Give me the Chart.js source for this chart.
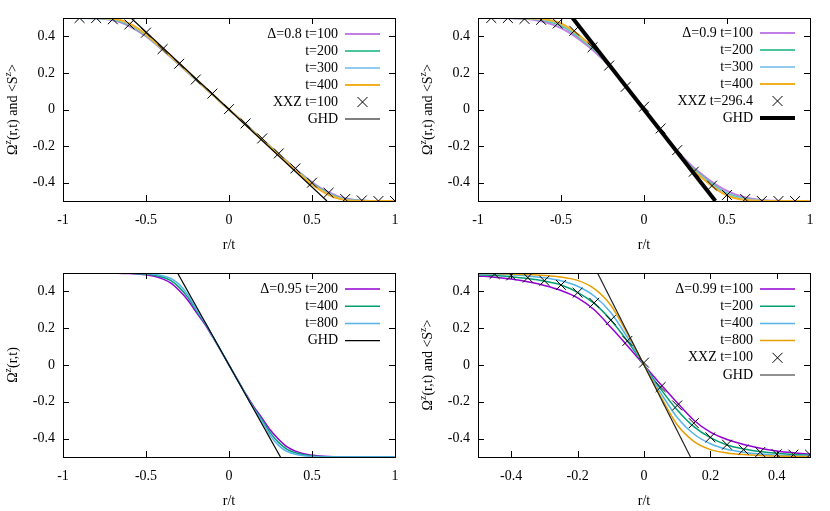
<!DOCTYPE html>
<html>
<head>
<meta charset="utf-8">
<script src="https://cdn.jsdelivr.net/npm/chart.js@4.4.0/dist/chart.umd.min.js"></script>
<style>
  body { margin: 0; background: #fff; width: 830px; height: 511px; position: relative; overflow: hidden; }
  canvas { position: absolute; }
  .probe { position: absolute; left: -999px; top: 0; font: 14px "Liberation Serif"; }
</style>
</head>
<body>
<span class="probe">Δ=0.8 t=100 Ω</span>
<canvas id="p1" width="415" height="250" style="left:0;top:0"></canvas>
<canvas id="p2" width="415" height="250" style="left:415px;top:0"></canvas>
<canvas id="p3" width="415" height="261" style="left:0;top:250px"></canvas>
<canvas id="p4" width="415" height="261" style="left:415px;top:250px"></canvas>
<script>
// ---- tick labels
const ticksX1 = [-1, -0.5, 0, 0.5, 1]
const ticksX4 = [-0.4, -0.2, 0, 0.2, 0.4]
const ticksY = [-0.4, -0.2, 0, 0.2, 0.4]

// ---- panel 1: Delta = 0.8
const x1 = [-1, -0.9, -0.8, -0.75, -0.7, -0.65, -0.6, -0.55, -0.5, -0.4, -0.3, -0.2, -0.1, 0, 0.1, 0.2, 0.3, 0.4, 0.5, 0.55, 0.6, 0.65, 0.7, 0.75, 0.8, 0.9, 1]
const p1t100 = [0.5, 0.5, 0.498, 0.495, 0.488, 0.475, 0.455, 0.43, 0.4, 0.325, 0.245, 0.163, 0.082, 0, -0.081, -0.163, -0.244, -0.324, -0.398, -0.428, -0.452, -0.472, -0.485, -0.493, -0.497, -0.5, -0.5]
const p1t200 = [0.5, 0.5, 0.499, 0.497, 0.492, 0.481, 0.462, 0.435, 0.405, 0.328, 0.247, 0.164, 0.082, 0, -0.082, -0.164, -0.246, -0.327, -0.403, -0.434, -0.459, -0.478, -0.49, -0.496, -0.499, -0.5, -0.5]
const p1t300 = [0.5, 0.5, 0.5, 0.498, 0.494, 0.485, 0.467, 0.44, 0.408, 0.33, 0.248, 0.165, 0.083, 0, -0.083, -0.165, -0.248, -0.33, -0.407, -0.438, -0.463, -0.482, -0.492, -0.498, -0.5, -0.5, -0.5]
const p1t400 = [0.5, 0.5, 0.5, 0.499, 0.496, 0.488, 0.47, 0.443, 0.41, 0.331, 0.249, 0.166, 0.083, 0, -0.083, -0.166, -0.249, -0.331, -0.41, -0.441, -0.466, -0.484, -0.494, -0.499, -0.5, -0.5, -0.5]
const p1xxzX = [-0.9, -0.8, -0.7, -0.6, -0.5, -0.4, -0.3, -0.2, -0.1, 0, 0.1, 0.2, 0.3, 0.4, 0.5, 0.6, 0.7, 0.8, 0.9, 1]
const p1xxzY = [0.5, 0.5, 0.493, 0.465, 0.42, 0.33, 0.25, 0.164, 0.087, 0.002, -0.076, -0.158, -0.24, -0.322, -0.4, -0.455, -0.489, -0.497, -0.5, -0.5]
const p1ghdX = [-0.59, 0.59]
const p1ghdY = [0.5, -0.5]

// ---- panel 2: Delta = 0.9
const x2 = [-1, -0.9, -0.8, -0.7, -0.65, -0.6, -0.55, -0.5, -0.45, -0.4, -0.35, -0.3, -0.2, -0.1, 0, 0.1, 0.2, 0.3, 0.35, 0.4, 0.45, 0.5, 0.55, 0.6, 0.65, 0.7, 0.8, 0.9, 1]
const p2t100 = [0.5, 0.5, 0.499, 0.494, 0.488, 0.478, 0.464, 0.445, 0.42, 0.39, 0.355, 0.318, 0.228, 0.115, 0, -0.115, -0.228, -0.318, -0.355, -0.39, -0.42, -0.445, -0.464, -0.478, -0.488, -0.494, -0.499, -0.5, -0.5]
const p2t200 = [0.5, 0.5, 0.5, 0.497, 0.493, 0.486, 0.475, 0.458, 0.433, 0.4, 0.365, 0.328, 0.23, 0.116, 0, -0.116, -0.23, -0.328, -0.365, -0.4, -0.433, -0.458, -0.475, -0.486, -0.493, -0.497, -0.5, -0.5, -0.5]
const p2t300 = [0.5, 0.5, 0.5, 0.498, 0.495, 0.49, 0.481, 0.465, 0.44, 0.407, 0.37, 0.333, 0.231, 0.116, 0, -0.116, -0.231, -0.333, -0.37, -0.407, -0.44, -0.465, -0.481, -0.49, -0.495, -0.498, -0.5, -0.5, -0.5]
const p2t400 = [0.5, 0.5, 0.5, 0.499, 0.497, 0.493, 0.485, 0.47, 0.445, 0.412, 0.374, 0.336, 0.232, 0.116, 0, -0.116, -0.232, -0.336, -0.374, -0.412, -0.445, -0.47, -0.485, -0.493, -0.497, -0.499, -0.5, -0.5, -0.5]
const p2xxzX = [-0.92, -0.82, -0.72, -0.62, -0.52, -0.42, -0.31, -0.21, -0.11, 0, 0.1, 0.2, 0.3, 0.41, 0.5, 0.61, 0.71, 0.81, 0.91]
const p2xxzY = [0.5, 0.5, 0.495, 0.49, 0.47, 0.43, 0.34, 0.24, 0.124, 0.015, -0.104, -0.222, -0.34, -0.416, -0.467, -0.489, -0.5, -0.5, -0.5]
const p2ghdX = [-0.43, 0.43]
const p2ghdY = [0.5, -0.5]

// ---- panel 3: Delta = 0.95
const x3 = [-1, -0.8, -0.7, -0.6, -0.5, -0.45, -0.4, -0.35, -0.3, -0.25, -0.2, -0.15, -0.1, -0.05, 0, 0.05, 0.1, 0.15, 0.2, 0.25, 0.3, 0.35, 0.4, 0.45, 0.5, 0.6, 0.7, 0.8, 1]
const p3t200 = [0.5, 0.5, 0.499, 0.497, 0.49, 0.482, 0.468, 0.445, 0.405, 0.355, 0.29, 0.228, 0.155, 0.078, 0, -0.078, -0.155, -0.228, -0.29, -0.355, -0.405, -0.445, -0.468, -0.482, -0.49, -0.497, -0.499, -0.5, -0.5]
const p3t400 = [0.5, 0.5, 0.5, 0.499, 0.494, 0.488, 0.477, 0.458, 0.422, 0.37, 0.3, 0.234, 0.158, 0.079, 0, -0.079, -0.158, -0.234, -0.3, -0.37, -0.422, -0.458, -0.477, -0.488, -0.494, -0.499, -0.5, -0.5, -0.5]
const p3t800 = [0.5, 0.5, 0.5, 0.5, 0.497, 0.493, 0.485, 0.47, 0.438, 0.385, 0.308, 0.238, 0.16, 0.08, 0, -0.08, -0.16, -0.238, -0.308, -0.385, -0.438, -0.47, -0.485, -0.493, -0.497, -0.5, -0.5, -0.5, -0.5]
const p3ghdX = [-0.31, 0.31]
const p3ghdY = [0.5, -0.5]

// ---- panel 4: Delta = 0.99
const x4 = [-0.5, -0.45, -0.4, -0.35, -0.3, -0.25, -0.2, -0.15, -0.1, -0.05, 0, 0.05, 0.1, 0.15, 0.2, 0.25, 0.3, 0.35, 0.4, 0.45, 0.5]
const p4t100 = [0.484, 0.477, 0.467, 0.452, 0.432, 0.405, 0.365, 0.3, 0.205, 0.105, 0, -0.105, -0.205, -0.3, -0.365, -0.405, -0.432, -0.452, -0.467, -0.477, -0.484]
const p4t200 = [0.49, 0.487, 0.48, 0.47, 0.456, 0.435, 0.395, 0.335, 0.245, 0.13, 0, -0.13, -0.245, -0.335, -0.395, -0.435, -0.456, -0.47, -0.48, -0.487, -0.49]
const p4t400 = [0.495, 0.493, 0.49, 0.484, 0.474, 0.458, 0.428, 0.375, 0.285, 0.15, 0, -0.15, -0.285, -0.375, -0.428, -0.458, -0.474, -0.484, -0.49, -0.493, -0.495]
const p4t800 = [0.498, 0.497, 0.495, 0.492, 0.487, 0.478, 0.46, 0.415, 0.325, 0.17, 0, -0.17, -0.325, -0.415, -0.46, -0.478, -0.487, -0.492, -0.495, -0.497, -0.498]
const p4xxzX = [-0.45, -0.4, -0.35, -0.3, -0.25, -0.2, -0.15, -0.1, -0.05, 0, 0.05, 0.1, 0.15, 0.2, 0.25, 0.3, 0.35, 0.4, 0.45, 0.5]
const p4xxzY = [0.495, 0.487, 0.475, 0.458, 0.435, 0.393, 0.338, 0.244, 0.131, 0.013, -0.12, -0.22, -0.316, -0.393, -0.433, -0.46, -0.473, -0.485, -0.487, -0.487]
const p4ghdX = [-0.14, 0.14]
const p4ghdY = [0.5, -0.5]

const FONT = "'Liberation Serif', 'Times New Roman', Times, serif"
const lightCols = ['#c07ee6', '#4cc49e', '#92caf0', '#f2b020']
const darkCols = ['#9400d3', '#009e73', '#56b4e9', '#e69f00']

const pts = (xs, ys) => xs.map((x, i) => ({ x: x, y: ys[i] }))

function curve(label, xs, ys, color, width) {
    return { label, data: pts(xs, ys), borderColor: color, borderWidth: width,
             showLine: true, pointRadius: 0, cubicInterpolationMode: 'monotone', fill: false }
}
function marks(label, xs, ys) {
    return { label, data: pts(xs, ys), showLine: false, pointStyle: 'crossRot',
             pointRadius: 7, borderColor: '#000', borderWidth: 1, backgroundColor: '#000', isMark: true }
}
function ghd(xs, ys, width, color) {
    return { label: 'GHD', data: pts(xs, ys), borderColor: color || '#000', borderWidth: width,
             showLine: true, pointRadius: 0, fill: false }
}

// frame, inward mirror ticks, legend and axis titles drawn gnuplot style
const gnuplotFrame = {
    id: 'gnuplotFrame',
    afterDraw(chart) {
        const c = chart.ctx, a = chart.chartArea, o = chart.options.plugins.gnuplotFrame
        const sx = chart.scales.x, sy = chart.scales.y
        c.save()
        c.strokeStyle = '#000'
        c.lineWidth = 1
        c.strokeRect(Math.round(a.left) + 0.5, Math.round(a.top) + 0.5, Math.round(a.right - a.left), Math.round(a.bottom - a.top))
        c.beginPath()
        o.xt.forEach(v => {
            const px = Math.round(sx.getPixelForValue(v)) + 0.5
            c.moveTo(px, a.bottom); c.lineTo(px, a.bottom - 6)
            c.moveTo(px, a.top); c.lineTo(px, a.top + 6)
        })
        ticksY.forEach(v => {
            const py = Math.round(sy.getPixelForValue(v)) + 0.5
            c.moveTo(a.left, py); c.lineTo(a.left + 6, py)
            c.moveTo(a.right, py); c.lineTo(a.right - 6, py)
        })
        c.stroke()

        // legend
        c.font = '14px ' + FONT
        c.textBaseline = 'middle'
        c.fillStyle = '#000'
        chart.data.datasets.forEach((ds, i) => {
            const y = o.legY + i * o.legDy
            c.textAlign = 'right'
            c.fillText(ds.label, o.legText, y)
            if (ds.isMark) {
                const cx = (o.legL1 + o.legL2) / 2, r = 5
                c.beginPath()
                c.moveTo(cx - r, y - r); c.lineTo(cx + r, y + r)
                c.moveTo(cx - r, y + r); c.lineTo(cx + r, y - r)
                c.lineWidth = 1; c.strokeStyle = '#000'; c.stroke()
            } else {
                c.beginPath()
                c.moveTo(o.legL1, y); c.lineTo(o.legL2, y)
                c.lineWidth = ds.borderWidth; c.strokeStyle = ds.borderColor; c.stroke()
            }
        })

        // x title
        c.textAlign = 'center'
        c.fillText('r/t', (a.left + a.right) / 2, a.bottom + 44)

        // y title with superscripts
        const parts = o.yTitle
        const big = '14px ' + FONT, small = '10px ' + FONT
        let w = 0
        parts.forEach(p => { c.font = p[1] ? small : big; w += c.measureText(p[0]).width })
        c.translate(13, (a.top + a.bottom) / 2)
        c.rotate(-Math.PI / 2)
        c.textAlign = 'left'
        let x = -w / 2
        parts.forEach(p => {
            c.font = p[1] ? small : big
            c.fillText(p[0], x, p[1] ? -5 : 0)
            x += c.measureText(p[0]).width
        })
        c.restore()
    }
}

function makePanel(id, datasets, xmin, xmax, xt, top, bottom, legY, legDy, yTitle) {
    const canvas = document.getElementById(id)
    const H = canvas.height
    datasets.forEach((d, i) => { d.order = 20 - i })
    return new Chart(canvas.getContext('2d'), {
        type: 'scatter',
        data: { datasets: datasets },
        options: {
            responsive: false,
            animation: false,
            layout: { padding: { top: top, right: 20, left: 0, bottom: 0 } },
            plugins: {
                legend: { display: false },
                tooltip: { enabled: false },
                gnuplotFrame: { xt: xt, legY: legY, legDy: legDy, legText: 338, legL1: 345, legL2: 380, yTitle: yTitle }
            },
            scales: {
                x: {
                    type: 'linear', min: xmin, max: xmax,
                    grid: { display: false, drawTicks: false }, border: { display: false },
                    ticks: { color: '#000', font: { family: FONT, size: 14 }, padding: 11, maxRotation: 0, autoSkip: false,
                             callback: v => String(v) },
                    afterBuildTicks: s => { s.ticks = xt.map(v => ({ value: v })) },
                    afterFit: s => { s.height = H - bottom }
                },
                y: {
                    type: 'linear', min: -0.5, max: 0.5,
                    grid: { display: false, drawTicks: false }, border: { display: false },
                    ticks: { color: '#000', font: { family: FONT, size: 14 }, padding: 8, autoSkip: false,
                             callback: v => String(v) },
                    afterBuildTicks: s => { s.ticks = ticksY.map(v => ({ value: v })) },
                    afterFit: s => { s.width = 63 }
                }
            }
        },
        plugins: [gnuplotFrame]
    })
}

const titleBoth = [['Ω', false], ['z', true], ['(r,t) and <S', false], ['z', true], ['>', false]]
const titleOmega = [['Ω', false], ['z', true], ['(r,t)', false]]

function drawAll() {
    makePanel('p1', [
        curve('Δ=0.8 t=100', x1, p1t100, lightCols[0], 2),
        curve('t=200', x1, p1t200, lightCols[1], 2),
        curve('t=300', x1, p1t300, lightCols[2], 2),
        curve('t=400', x1, p1t400, lightCols[3], 2),
        marks('XXZ t=100', p1xxzX, p1xxzY),
        ghd(p1ghdX, p1ghdY, 1.2)
    ], -1, 1, ticksX1, 18, 201, 34, 17, titleBoth)

    makePanel('p2', [
        curve('Δ=0.9 t=100', x2, p2t100, lightCols[0], 2),
        curve('t=200', x2, p2t200, lightCols[1], 2),
        curve('t=300', x2, p2t300, lightCols[2], 2),
        curve('t=400', x2, p2t400, lightCols[3], 2),
        marks('XXZ t=296.4', p2xxzX, p2xxzY),
        ghd(p2ghdX, p2ghdY, 4)
    ], -1, 1, ticksX1, 18, 201, 33, 17, titleBoth)

    makePanel('p3', [
        curve('Δ=0.95 t=200', x3, p3t200, darkCols[0], 1.5),
        curve('t=400', x3, p3t400, darkCols[1], 1.5),
        curve('t=800', x3, p3t800, darkCols[2], 1.5),
        ghd(p3ghdX, p3ghdY, 1.2)
    ], -1, 1, ticksX1, 23, 207, 39, 17.2, titleOmega)

    makePanel('p4', [
        curve('Δ=0.99 t=100', x4, p4t100, darkCols[0], 1.5),
        curve('t=200', x4, p4t200, darkCols[1], 1.5),
        curve('t=400', x4, p4t400, darkCols[2], 1.5),
        curve('t=800', x4, p4t800, darkCols[3], 1.5),
        marks('XXZ t=100', p4xxzX, p4xxzY),
        ghd(p4ghdX, p4ghdY, 1.2, '#222')
    ], -0.5, 0.5, ticksX4, 23, 207, 39, 17.2, titleBoth)
}

document.fonts.load("14px 'Liberation Serif'").then(drawAll, drawAll)
</script>
</body>
</html>
